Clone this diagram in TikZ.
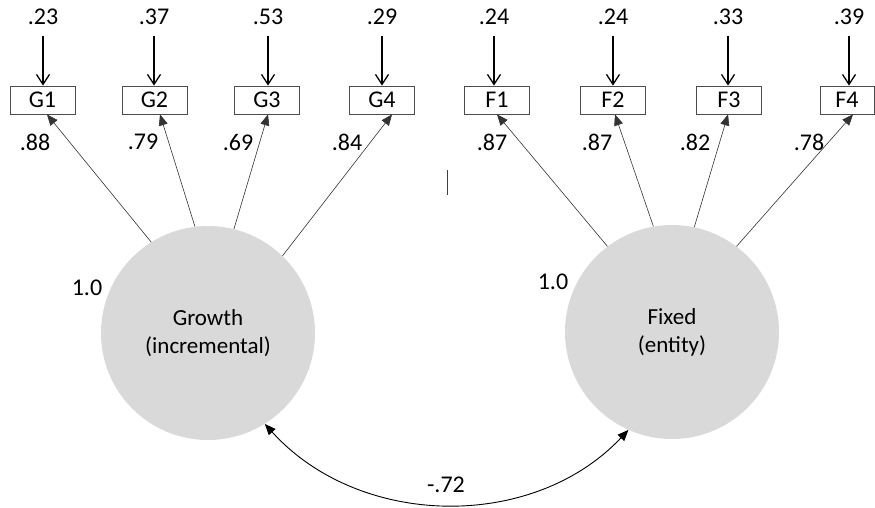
\documentclass[tikz,border=0pt]{standalone}
\usepackage{fontspec}
\setmainfont{Carlito}
\usetikzlibrary{arrows.meta}
\begin{document}
\begin{tikzpicture}[x=1pt,y=-1pt,
  obs/.style={draw=black!70,line width=0.8pt,minimum width=65pt,minimum height=28pt,inner sep=0pt,font=\fontsize{24}{28}\selectfont},
  lat/.style={circle,fill=black!15,draw=none,minimum size=214pt,inner sep=0pt,align=center,font=\fontsize{23}{28}\selectfont},
  lbl/.style={inner sep=0pt,font=\fontsize{24}{28}\selectfont},
  resid/.style={line width=1.3pt,-{Straight Barb[length=10pt,width=13pt]}},
  load/.style={line width=0.6pt,black!80,-{Triangle[length=11pt,width=9pt]}},
  cov/.style={line width=0.9pt,{Triangle[length=11pt,width=9pt]}-{Triangle[length=11pt,width=9pt]}}]
\useasboundingbox (0,0) rectangle (875,508);
% observed boxes
\node[obs] (G1) at (42.5,100) {G1};
\node[obs] (G2) at (154.5,100) {G2};
\node[obs] (G3) at (267,100) {G3};
\node[obs] (G4) at (382,100) {G4};
\node[obs] (F1) at (497,100) {F1};
\node[obs] (F2) at (613,100) {F2};
\node[obs] (F3) at (729,100) {F3};
\node[obs,minimum width=54pt] (F4) at (847,100) {F4};
% residual labels
\node[lbl] (e1) at (43,17) {.23};
\node[lbl] (e2) at (154,17) {.37};
\node[lbl] (e3) at (268,17) {.53};
\node[lbl] (e4) at (382,17) {.29};
\node[lbl] (e5) at (494,17) {.24};
\node[lbl] (e6) at (613,17) {.24};
\node[lbl] (e7) at (728,17) {.33};
\node[lbl] (e8) at (849,17) {.39};
\foreach \b/\dx in {G1/0.5,G2/-0.5,G3/1,G4/0,F1/-3,F2/0,F3/-1,F4/2}{
  \draw[resid] ([xshift=\dx pt,yshift=50pt]\b.north) -- ([xshift=\dx pt]\b.north);
}
% latent
\node[lat] (Gr) at (208,333) {Growth\\(incremental)};
\node[lat] (Fx) at (672,332) {Fixed\\(entity)};
\node[lbl] (vG) at (87,288) {1.0};
\node[lbl] (vF) at (553,282) {1.0};
% loadings
\draw[load] (Gr.122.5) -- ([xshift=4.5pt]G1.south);
\draw[load] (Gr.97) -- ([xshift=5.5pt]G2.south);
\draw[load] (Gr.76) -- ([xshift=1pt]G3.south);
\draw[load] (Gr.46) -- ([xshift=10pt]G4.south);
\draw[load] (Fx.127) -- (F1.south);
\draw[load] (Fx.100) -- ([xshift=2pt]F2.south);
\draw[load] (Fx.78) -- ([xshift=-1pt]F3.south);
\draw[load] (Fx.53) -- ([xshift=6pt]F4.south);
\node[lbl] (l1) at (35,142) {.88};
\node[lbl] (l2) at (143,142) {.79};
\node[lbl] (l3) at (238,142) {.69};
\node[lbl] (l4) at (347,142) {.84};
\node[lbl] (l5) at (492,142) {.87};
\node[lbl] (l6) at (597,142) {.87};
\node[lbl] (l7) at (695,142) {.82};
\node[lbl] (l8) at (809,142) {.78};
% covariance
\draw[cov] (Gr.-58) .. controls +(95,105) and +(-95,101) .. (Fx.-114);
\node[lbl] (c) at (446,485) {-.72};
% stray mark
\coordinate (s1) at (447,170);
\coordinate (s2) at (447,195);
\draw[line width=1pt,black!75] (s1) -- (s2);
\end{tikzpicture}
\end{document}
